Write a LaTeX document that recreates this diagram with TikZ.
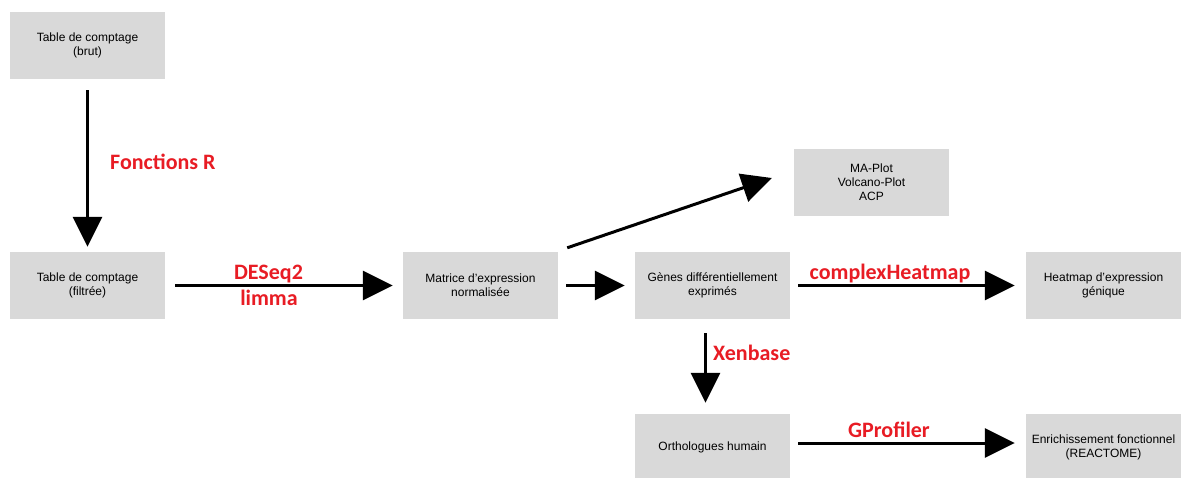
\documentclass[tikz,border=0pt]{standalone}
\usepackage{fontspec}
\setmainfont{Liberation Sans}
\newfontfamily\lblfont{Carlito}
\usetikzlibrary{arrows.meta}
\definecolor{boxgray}{RGB}{217,217,217}
\definecolor{lblred}{RGB}{232,28,36}
\tikzset{
  box/.style={fill=boxgray, draw=none, minimum width=155pt, minimum height=67pt,
    inner sep=0pt, align=center, font=\fontsize{12}{14}\selectfont},
  arr/.style={line width=3pt, -{Triangle[length=30pt,width=29pt]}},
  lbl/.style={text=lblred, font=\lblfont\bfseries\fontsize{22}{24}\selectfont, inner sep=0pt}
}
\begin{document}
\begin{tikzpicture}[x=1pt,y=-1pt]
\clip (0,0) rectangle (1182,477);
\fill[white] (0,0) rectangle (1182,477);
% boxes
\node[box] (b1) at (87.5,45.5) {Table de comptage\\(brut)};
\node[box] (b2) at (87.5,285.5) {Table de comptage\\(filtrée)};
\node[box] (b3) at (480.5,285.5) {Matrice d’expression\\normalisée};
\node[box] (b4) at (712.5,285.5) {Gènes différentiellement\\exprimés};
\node[box] (b5) at (871.5,182) {MA-Plot\\Volcano-Plot\\ACP};
\node[box] (b6) at (1103.5,285.5) {Heatmap d’expression\\génique};
\node[box] (b7) at (712.5,447.5) {Orthologues humain};
\node[box] (b8) at (1103.5,447.5) {Enrichissement fonctionnel\\(REACTOME)};
% connectors
\draw[arr, shorten <=11pt, shorten >=5pt] (b1) -- (b2);
\draw[arr, shorten <=10pt, shorten >=10pt] (b2) -- (b3);
\draw[arr, shorten <=8pt, shorten >=10pt] (b3) -- (b4);
\draw[arr] ([xshift=9pt,yshift=4pt]b3.north east) -- ([xshift=-22pt,yshift=4pt]b5.west);
\draw[arr, shorten <=8pt, shorten >=11pt] (b4) -- (b6);
\draw[arr] ([xshift=-7pt,yshift=-14pt]b4.south) -- ([xshift=-7pt,yshift=11pt]b7.north);
\draw[arr] ([xshift=8pt,yshift=4.5pt]b7.east) -- ([xshift=-11pt,yshift=4.5pt]b8.west);
% labels
\node[lbl, anchor=base west] (lR) at (110,169) {Fonctions R};
\node[lbl, anchor=base] (lD) at (268.5,279) {DESeq2};
\node[lbl, anchor=base] (lL) at (269,305) {limma};
\node[lbl, anchor=base] (lC) at (890,279) {complexHeatmap};
\node[lbl, anchor=base west] (lX) at (713,360) {Xenbase};
\node[lbl, anchor=base] (lG) at (889,437) {GProfiler};
\end{tikzpicture}
\end{document}
